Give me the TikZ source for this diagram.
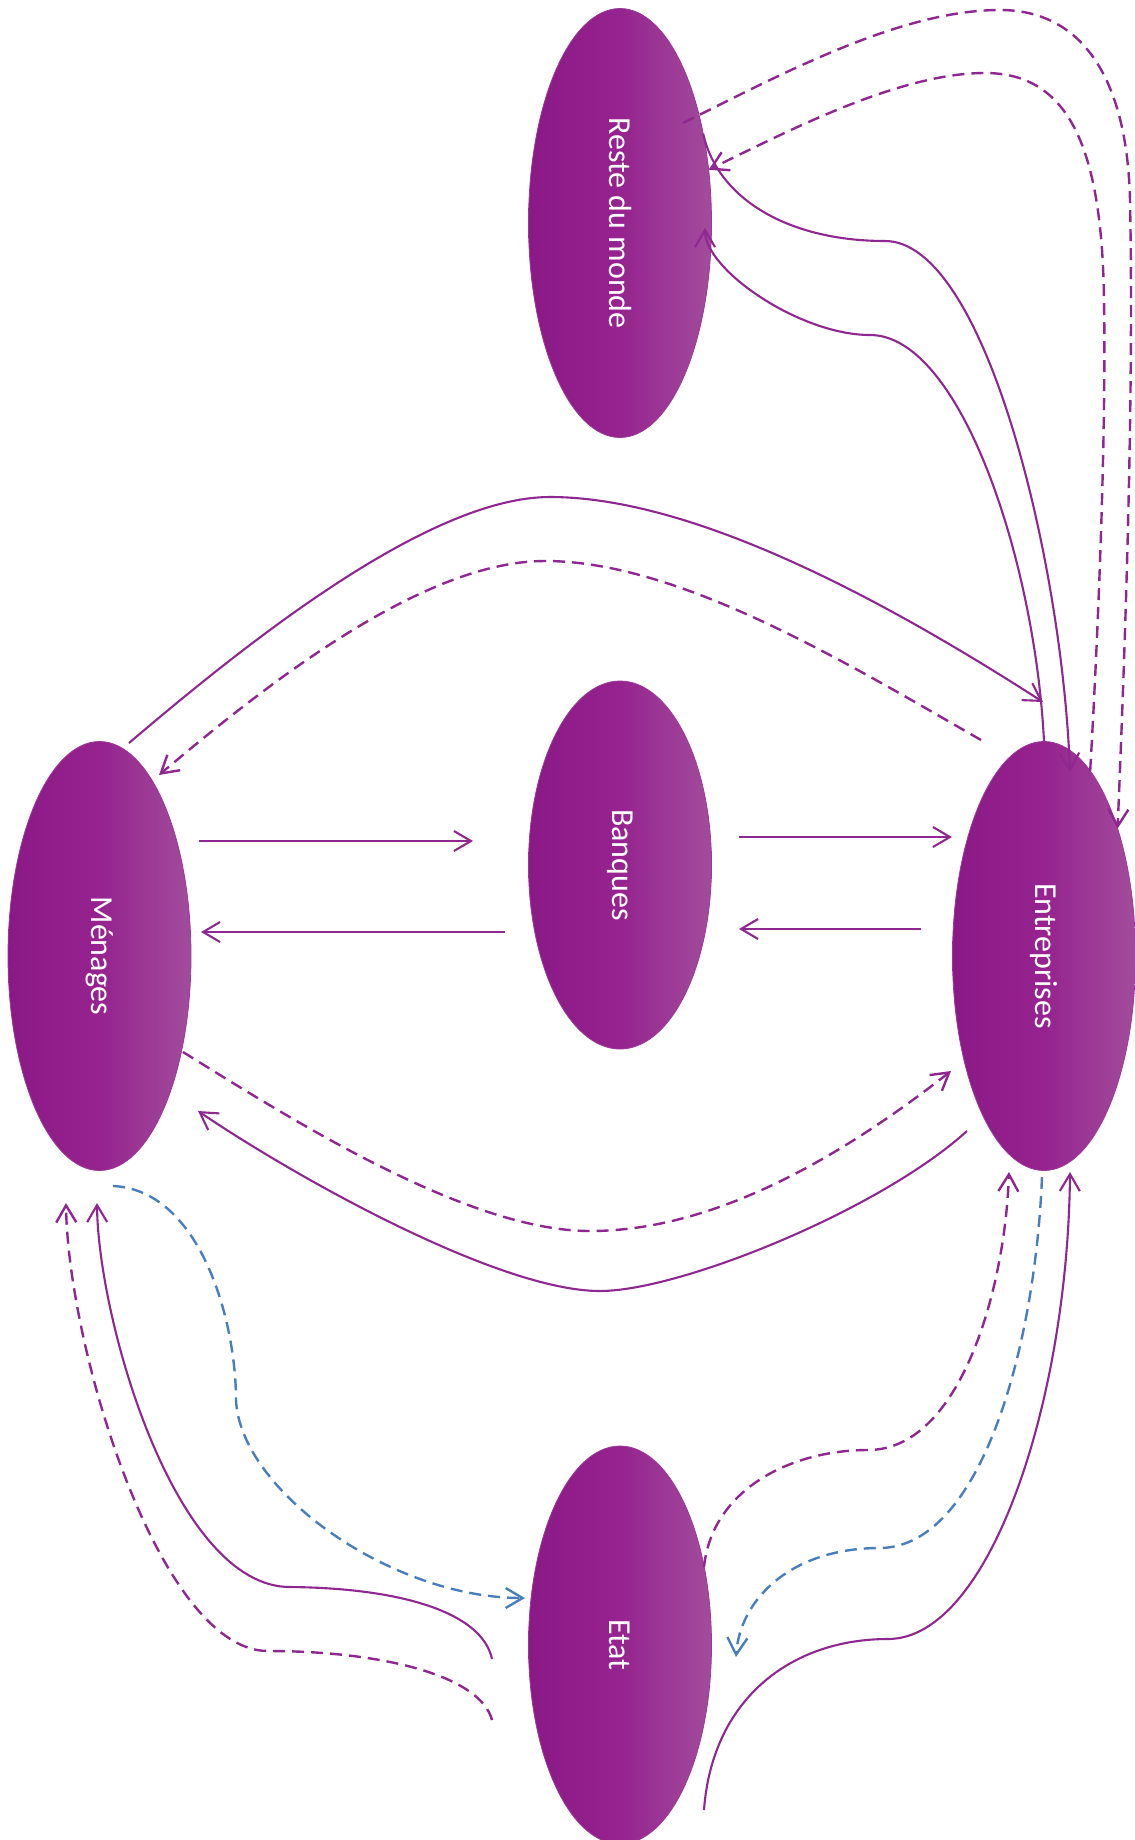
\documentclass[tikz,border=0pt]{standalone}
\usepackage{fontspec}
\setmainfont{Carlito}
\usetikzlibrary{shapes.geometric,arrows.meta}
\definecolor{pline}{HTML}{8E278F}
\definecolor{bline}{HTML}{4A7EBB}
\definecolor{eleft}{HTML}{8A1886}
\definecolor{emid}{HTML}{96238F}
\definecolor{eright}{HTML}{A24C9C}
\definecolor{eborder}{HTML}{9A3A97}
\begin{document}
\begin{tikzpicture}[x=1pt,y=-1pt,
  blob/.style={ellipse, inner sep=0pt, outer sep=0pt, minimum width=183pt, draw=eborder, line width=0.8pt, left color=eleft, right color=eright, middle color=emid},
  lbl/.style={text=white, font=\fontsize{32}{36}\selectfont, rotate=-90, inner sep=0pt},
  plainline/.style={draw=pline, line width=2.1pt},
  flow/.style={plainline, -{Straight Barb[length=17pt,width=20pt]}},
  dflow/.style={flow, line width=2.4pt, dash pattern=on 12pt off 7pt},
  bflow/.style={dflow, draw=bline},
]
\useasboundingbox (0,0) rectangle (1135,1840);

% nodes
\node[blob, minimum height=429pt] (rdm) at (620,223) {};
\node[blob, minimum height=368pt] (ban) at (620,865) {};
\node[blob, minimum height=429pt] (men) at (99.5,956) {};
\node[blob, minimum height=429pt] (ent) at (1044,956) {};
\node[blob, minimum height=398pt] (etat) at (620,1645) {};

\node[lbl] (rdmt) at (rdm) {Reste du monde};
\node[lbl] (bant) at (ban) {Banques};
\node[lbl] (ment) at (men) {Ménages};
\node[lbl] (entt) at (ent) {Entreprises};
\node[lbl] (etatt) at (etat) {Etat};

% free ends
\coordinate (rB) at (705,228);
\coordinate (rD) at (683,123);
\coordinate (eA) at (1070,772);
\coordinate (eTop) at (1043,702);
\coordinate (eTopD) at (981,740);
\coordinate (mTopD) at (159,775);
\coordinate (mTop) at (129,743);
\coordinate (mh1) at (199,841);
\coordinate (bh1) at (473,841);
\coordinate (bh2) at (505,932);
\coordinate (mh2) at (201,932);
\coordinate (bh3) at (739,837);
\coordinate (eh3) at (952,837);
\coordinate (eh4) at (921,929);
\coordinate (bh4) at (739,929);
\coordinate (mLowD) at (183,1052);
\coordinate (eLowD) at (951,1071);
\coordinate (eLow) at (967,1131);
\coordinate (mLow) at (198,1111);
\coordinate (mB1) at (113,1186);
\coordinate (sB1) at (525,1598);
\coordinate (sL1) at (492,1659);
\coordinate (mB2) at (97,1203);
\coordinate (sL2) at (492,1720);
\coordinate (mB3) at (66,1203);
\coordinate (sR1) at (704,1567);
\coordinate (eB1) at (1009,1172);
\coordinate (eB2) at (1042,1177);
\coordinate (sR2) at (736,1657);
\coordinate (sR3) at (704,1810);
\coordinate (eB3) at (1070,1172);

% Reste du monde <-> Entreprises
\draw[flow] (rdm.47) .. controls (718,200) and (790,241) .. (885,241)
  .. controls (985,241) and (1062,560) .. (eA);
\draw[flow] (ent.north) .. controls (1035,560) and (960,335) .. (870,335)
  .. controls (800,335) and (705,270) .. (rB);
\draw[dflow] (ent.76) .. controls (1100,600) and (1106,420) .. (1104,300)
  .. controls (1102,150) and (1070,73) .. (985,73)
  .. controls (900,73) and (790,130) .. (rdm.31);
\draw[dflow] (rD) .. controls (780,75) and (900,10) .. (1000,10)
  .. controls (1080,10) and (1127,75) .. (1130,200)
  .. controls (1134,400) and (1125,650) .. (ent.60);

% Menages <-> Entreprises (top)
\draw[flow] (mTop) .. controls (250,640) and (430,497) .. (550,497)
  .. controls (700,497) and (900,610) .. (eTop);
\draw[dflow] (eTopD) .. controls (850,665) and (680,561) .. (545,561)
  .. controls (420,561) and (260,690) .. (mTopD);

% Banques
\draw[flow] (mh1) -- (bh1);
\draw[flow] (bh2) -- (mh2);
\draw[flow] (bh3) -- (eh3);
\draw[flow] (eh4) -- (bh4);

% Menages <-> Entreprises (bottom)
\draw[dflow] (mLowD) .. controls (300,1125) and (470,1231) .. (590,1231)
  .. controls (720,1231) and (850,1150) .. (eLowD);
\draw[flow] (eLow) .. controls (880,1210) and (680,1291) .. (600,1291)
  .. controls (500,1291) and (300,1180) .. (mLow);

% Menages <-> Etat
\draw[bflow] (mB1) .. controls (200,1190) and (236,1320) .. (236,1400)
  .. controls (240,1490) and (390,1598) .. (sB1);
\draw[flow] (sL1) .. controls (482,1612) and (400,1588) .. (290,1587)
  .. controls (175,1587) and (98,1320) .. (mB2);
\draw[dflow] (sL2) .. controls (480,1675) and (380,1651) .. (268,1651)
  .. controls (160,1651) and (68,1350) .. (mB3);

% Entreprises <-> Etat
\draw[dflow] (sR1) .. controls (712,1490) and (790,1450) .. (868,1450)
  .. controls (960,1450) and (1005,1290) .. (eB1);
\draw[bflow] (eB2) .. controls (1035,1350) and (980,1547) .. (880,1548)
  .. controls (790,1548) and (740,1600) .. (sR2);
\draw[flow] (sR3) .. controls (712,1700) and (790,1639) .. (888,1639)
  .. controls (990,1639) and (1068,1400) .. (eB3);
\end{tikzpicture}
\end{document}
